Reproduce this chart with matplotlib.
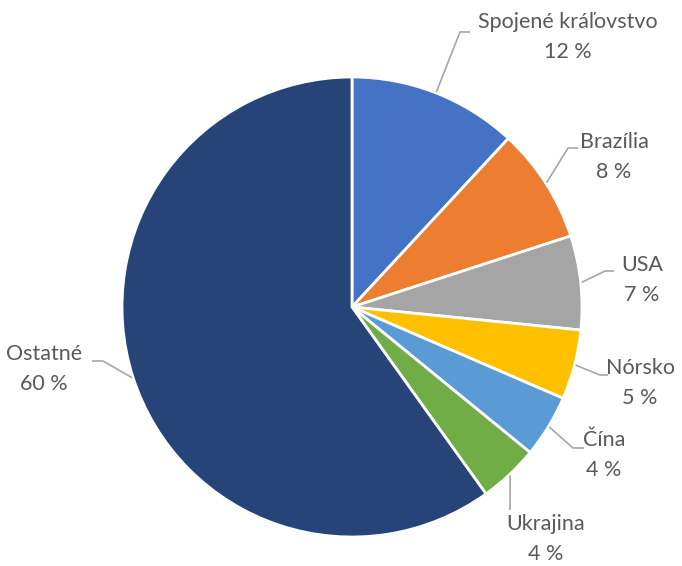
import numpy as np
import matplotlib.pyplot as plt

labels = ["Spojené kráľovstvo", "Brazília", "USA", "Nórsko", "Čína", "Ukrajina", "Ostatné"]
values = [11.9, 8.1, 6.6, 4.9, 4.4, 4.2, 59.9]
colors = ["#4472C4", "#ED7D31", "#A5A5A5", "#FFC000", "#5B9BD5", "#70AD47", "#264478"]

W, H = 682, 566
fig = plt.figure(figsize=(W / 100, H / 100), dpi=100)
ax = fig.add_axes([0, 0, 1, 1])
ax.set_xlim(0, W)
ax.set_ylim(0, H)
ax.set_aspect("equal")
ax.axis("off")

cx, cy, r = 352, H - 307, 230
wedges, _ = ax.pie(values, colors=colors, startangle=90, counterclock=False,
                   center=(cx, cy), radius=r,
                   wedgeprops=dict(edgecolor="white", linewidth=2))
ax.set_xlim(0, W)
ax.set_ylim(0, H)

# leader elbow / end points and label centres (pixel coords, y from top)
elbows = [(460, 32), (568, 148), (605, 271), (600, 375), (573, 448), (510, 510), (103, 361)]
ends = [(470, 32), (578, 148), (614, 271), (608, 375), (584, 448), (510, 510), (92, 361)]
text_pos = [(568, 37), (614, 157), (642, 280), (640, 383), (604, 455), (546, 539), (44, 369)]

for w, v, name, e, en, tp in zip(wedges, values, labels, elbows, ends, text_pos):
    mid = np.deg2rad((w.theta1 + w.theta2) / 2)
    sx, sy = cx + (r + 1) * np.cos(mid), cy + (r + 1) * np.sin(mid)
    ax.plot([sx, e[0], en[0]], [sy, H - e[1], H - en[1]], color="#A6A6A6", lw=1.2,
            solid_capstyle="butt")
    ax.text(tp[0], H - tp[1], f"{name}\n{round(v)} %", ha="center", va="center",
            fontsize=15.5, color="#595959", family="Lato", linespacing=1.6)

fig.savefig("out.png", dpi=100)
